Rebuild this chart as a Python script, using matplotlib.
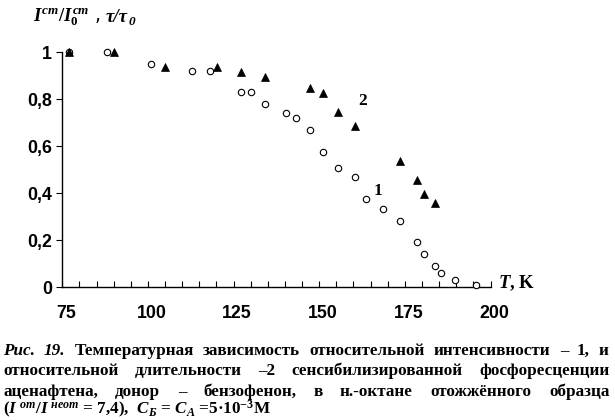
import matplotlib
matplotlib.use("Agg")
import matplotlib.pyplot as plt
import matplotlib.transforms as mtransforms
from matplotlib.ticker import MultipleLocator, FixedLocator

# ---- data ----
T_intensity = [77, 88, 101, 113, 118, 127.3, 130.2, 134.3, 140.4, 143.3, 147.4,
               151.2, 155.4, 160.3, 163.6, 168.6, 173.5, 178.4, 180.6, 183.7,
               185.5, 189.5, 195.8]
rel_intensity = [1.0, 1.0, 0.95, 0.92, 0.92, 0.83, 0.83, 0.78, 0.74, 0.72, 0.667,
                 0.577, 0.509, 0.467, 0.377, 0.331, 0.280, 0.190, 0.139, 0.088,
                 0.058, 0.028, 0.007]
T_lifetime = [77, 90.2, 105.1, 120.3, 127.3, 134.3, 147.4, 151.2, 155.4, 160.3,
              173.5, 178.4, 180.6, 183.7]
rel_lifetime = [1.0, 1.0, 0.937, 0.937, 0.915, 0.895, 0.848, 0.827, 0.746, 0.686,
                0.537, 0.457, 0.397, 0.359]
x_ticks = [75, 100, 125, 150, 175, 200]
y_ticks = [0, 0.2, 0.4, 0.6, 0.8, 1.0]
y_ticklabels = ["0", "0,2", "0,4", "0,6", "0,8", "1"]

plt.rcParams['mathtext.fontset'] = 'custom'
plt.rcParams['mathtext.rm'] = 'Liberation Serif:bold'
plt.rcParams['mathtext.it'] = 'Liberation Serif:italic:bold'
plt.rcParams['mathtext.bf'] = 'Liberation Serif:bold'

W, H = 615, 420
fig = plt.figure(figsize=(W / 100, H / 100), dpi=100)
fig.patch.set_facecolor('white')

left, right, top, bottom = 62.3, 490.5, 52.3, 287.0
ax = fig.add_axes([left / W, 1 - bottom / H, (right - left) / W, (bottom - top) / H])
ax.set_facecolor('none')

ax.plot(T_intensity, rel_intensity, linestyle='none', marker='o', markersize=4.6,
        markerfacecolor='white', markeredgecolor='black', markeredgewidth=0.8,
        clip_on=False, zorder=3)
ax.plot(T_lifetime, rel_lifetime, linestyle='none', marker='^', markersize=5.2,
        markerfacecolor='black', markeredgecolor='black', markeredgewidth=0.5,
        clip_on=False, zorder=4)

ax.set_xlim(75, 200)
ax.set_ylim(0, 1)
for s in ['top', 'right']:
    ax.spines[s].set_visible(False)
for s in ['left', 'bottom']:
    ax.spines[s].set_linewidth(1.0)

tick_font = dict(family='Liberation Sans', weight='bold', size=12.8)
ax.xaxis.set_major_locator(FixedLocator(x_ticks))
ax.xaxis.set_minor_locator(MultipleLocator(5))
ax.set_xticklabels([str(v) for v in x_ticks], fontdict=tick_font)
ax.tick_params(axis='x', which='both', direction='in', length=4, width=0.8, pad=13)
shift = mtransforms.ScaledTranslation(3.5 / 100, 0, fig.dpi_scale_trans)
for lbl in ax.get_xticklabels():
    lbl.set_transform(lbl.get_transform() + shift)
ax.set_yticks(y_ticks)
ax.set_yticklabels(y_ticklabels, fontdict=tick_font)
ax.tick_params(axis='y', which='major', direction='out', length=4, width=0.8, pad=3.5)

# series labels
ax.text(162.8, 0.793, "2", fontfamily='Liberation Serif', fontweight='bold', fontsize=12.5,
        ha='center', va='center')
ax.text(167.0, 0.41, "1", fontfamily='Liberation Serif', fontweight='bold', fontsize=12.5,
        ha='center', va='center')

renderer = fig.canvas.get_renderer()

# y-axis title (pieces so that tau is bold italic)
ylab_base = 22
t1 = fig.text(33 / W, 1 - ylab_base / H, r'$I^{ст}/I_0^{ст}$ ,', fontsize=13.5,
              ha='left', va='baseline')
x_next = 33 + t1.get_window_extent(renderer).width + 5
t2 = fig.text(x_next / W, 1 - ylab_base / H, 'τ/τ', fontfamily='Liberation Serif',
              fontweight='bold', fontstyle='italic', fontsize=13.5, ha='left', va='baseline')
x_next += t2.get_window_extent(renderer).width + 0.5
fig.text(x_next / W, 1 - (ylab_base + 3) / H, '0', fontfamily='Liberation Serif',
         fontweight='bold', fontstyle='italic', fontsize=9.5, ha='left', va='baseline')

fig.text(498 / W, 1 - 283 / H, r'$T$, K', fontfamily='Liberation Serif',
         fontweight='bold', fontsize=13.5, ha='left', va='center')

# caption, justified
cap_size = 12.3
lines = [
    [("Рис.", 'italic'), ("19.", 'italic'), ("Температурная", 'normal'), ("зависимость", 'normal'),
     ("относительной", 'normal'), ("интенсивности", 'normal'), ("–", 'normal'), ("1,", 'normal'),
     ("и", 'normal')],
    [("относительной", 'normal'), ("длительности", 'normal'), ("–2", 'normal'),
     ("сенсибилизированной", 'normal'), ("фосфоресценции", 'normal')],
    [("аценафтена,", 'normal'), ("донор", 'normal'), ("–", 'normal'), ("бензофенон,", 'normal'),
     ("в", 'normal'), ("н.-октане", 'normal'), ("отожжённого", 'normal'), ("образца", 'normal')],
]
baselines = [355, 375, 396]
x0, x1 = 3, 609
for words, yb in zip(lines, baselines):
    objs = []
    for w, st in words:
        t = fig.text(0, 1 - yb / H, w, fontfamily='Liberation Serif', fontweight='bold',
                     fontstyle=st, fontsize=cap_size, ha='left', va='baseline')
        objs.append(t)
    widths = [o.get_window_extent(renderer).width for o in objs]
    gap = (x1 - x0 - sum(widths)) / (len(objs) - 1)
    x = x0
    for o, wd in zip(objs, widths):
        o.set_x(round(x) / W)
        x += wd + gap

fig.text(x0 / W, 1 - 414 / H,
         r'$(I^{\ от}/I^{\ неот}$ = 7,4),  $C_Б$ = $C_А$ =5·10$^{-3}$M',
         fontfamily='Liberation Serif', fontweight='bold', fontsize=cap_size,
         ha='left', va='baseline')

fig.savefig('out.png', dpi=100, facecolor='white')
